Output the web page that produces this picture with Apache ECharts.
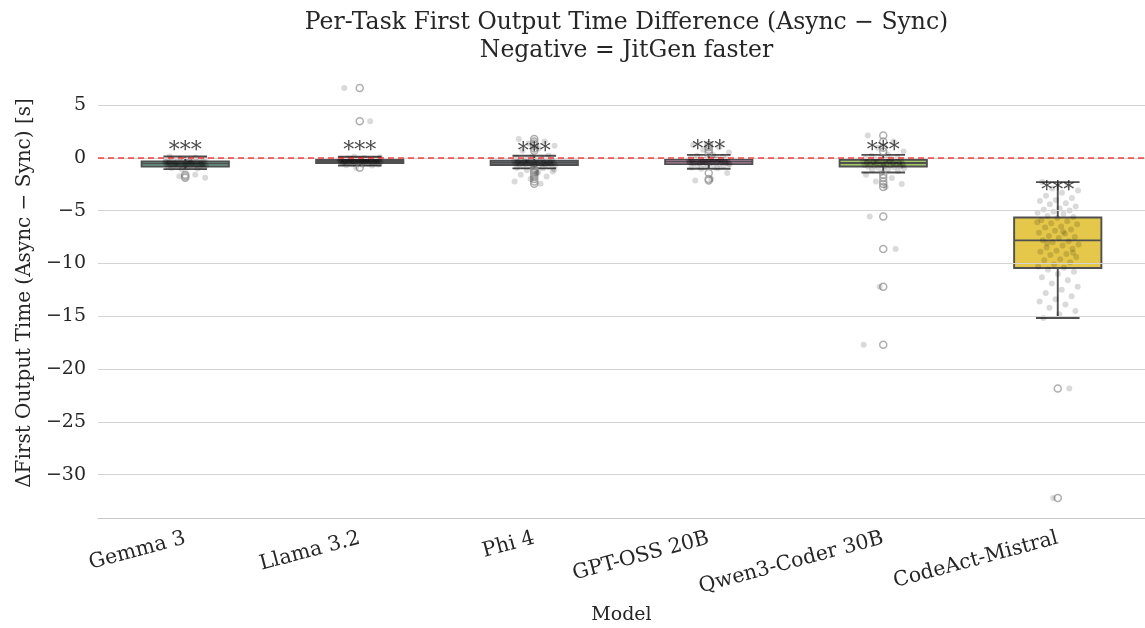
<!DOCTYPE html>
<html><head><meta charset="utf-8">
<script src="https://cdn.jsdelivr.net/npm/echarts@6/dist/echarts.min.js"></script>
<style>html,body{margin:0;padding:0;background:#fff}#c{width:1145px;height:628px}</style>
</head><body><div id="c"></div>
<script>
// ---- data ----
const models = ['Gemma 3', 'Llama 3.2', 'Phi 4', 'GPT-OSS 20B', 'Qwen3-Coder 30B', 'CodeAct-Mistral'];
const boxColors = ['#72b7a1', '#e99575', '#95a3c3', '#db96c0', '#a2c865', '#e5c849'];
const whiskerHigh = [0.12, 0.10, 0.20, 0.28, 0.28, -2.3];
const q3Values = [-0.35, -0.12, -0.28, -0.12, -0.19, -5.65];
const medianValues = [-0.55, -0.30, -0.47, -0.35, -0.50, -7.82];
const q1Values = [-0.82, -0.50, -0.68, -0.60, -0.82, -10.44];
const whiskerLow = [-1.07, -0.73, -1.0, -1.04, -1.39, -15.17];
const starY = [0.6, 0.6, 0.52, 0.75, 0.58, -3.2];
const yTicks = [-30, -25, -20, -15, -10, -5, 0, 5];

const pointsGemma = [0.12, 0.02, -0.08, -0.15, -0.2, -0.22, -0.26, -0.28, -0.3, -0.32, -0.34, -0.35, -0.37, -0.38, -0.4, -0.41, -0.43, -0.44, -0.46, -0.47, -0.49, -0.5, -0.52, -0.53, -0.55, -0.55, -0.56, -0.58, -0.59, -0.61, -0.62, -0.64, -0.65, -0.67, -0.69, -0.7, -0.72, -0.74, -0.76, -0.78, -0.8, -0.81, -0.83, -0.85, -0.88, -0.9, -0.93, -0.97, -1.02, -1.07, -0.36, -0.45, -0.51, -0.6, -0.66, -0.42, -1.6, -1.75, -1.9, -0.25];
const pointsLlama = [6.6, 3.45, 0.1, 0.04, -0.02, -0.06, -0.09, -0.11, -0.12, -0.14, -0.15, -0.17, -0.18, -0.19, -0.21, -0.22, -0.23, -0.24, -0.25, -0.26, -0.27, -0.28, -0.29, -0.3, -0.3, -0.31, -0.32, -0.33, -0.34, -0.35, -0.36, -0.37, -0.38, -0.39, -0.41, -0.42, -0.43, -0.45, -0.46, -0.48, -0.5, -0.52, -0.54, -0.57, -0.6, -0.63, -0.67, -0.7, -0.73, -0.95, -0.2, -0.25, -0.16, -0.33, -0.28, -0.4, -0.22, -0.36, -0.13, -0.31];
const pointsPhi = [1.77, 1.54, 1.35, 1.13, 0.88, 0.66, 0.2, 0.1, 0.0, -0.08, -0.14, -0.2, -0.24, -0.27, -0.3, -0.32, -0.34, -0.36, -0.38, -0.4, -0.42, -0.43, -0.45, -0.46, -0.47, -0.48, -0.5, -0.51, -0.53, -0.55, -0.56, -0.58, -0.6, -0.62, -0.64, -0.66, -0.68, -0.7, -0.73, -0.77, -0.82, -0.88, -0.94, -1.0, -1.18, -1.3, -1.45, -1.6, -1.77, -2.0, -2.24, -2.46, -0.35, -0.44, -0.52, -0.39, -0.57, -0.29, -1.12, -1.38];
const pointsGpt = [1.2, 1.0, 0.75, 0.5, 0.28, 0.2, 0.12, 0.05, 0.0, -0.04, -0.08, -0.11, -0.13, -0.16, -0.18, -0.2, -0.22, -0.24, -0.26, -0.28, -0.3, -0.31, -0.33, -0.35, -0.35, -0.37, -0.38, -0.4, -0.42, -0.44, -0.46, -0.48, -0.5, -0.52, -0.55, -0.58, -0.6, -0.63, -0.67, -0.72, -0.78, -0.85, -0.92, -1.0, -1.04, -1.45, -2.0, -2.15, -0.25, -0.32, -0.41, -0.15, -0.5, -0.36, -0.27, -0.45, -0.19, -0.39, -0.56, -0.1];
const pointsQwen = [2.1, 1.55, 0.95, 0.6, 0.28, 0.18, 0.1, 0.02, -0.05, -0.1, -0.15, -0.19, -0.22, -0.25, -0.28, -0.31, -0.34, -0.37, -0.4, -0.43, -0.46, -0.48, -0.5, -0.52, -0.55, -0.58, -0.61, -0.64, -0.67, -0.7, -0.73, -0.76, -0.8, -0.82, -0.86, -0.9, -0.95, -1.0, -1.08, -1.15, -1.25, -1.39, -1.6, -1.92, -2.24, -2.49, -2.77, -5.55, -8.64, -12.2, -17.7, -0.3, -0.42, -0.53, -0.62, -0.35, -0.47, -0.27, -0.72, -0.2];
const pointsCodeAct = [-2.3, -2.6, -2.9, -3.1, -3.3, -3.6, -3.8, -4.0, -4.1, -4.3, -4.4, -4.6, -4.8, -4.9, -5.0, -5.1, -5.2, -5.3, -5.5, -5.6, -5.7, -5.9, -6.0, -6.2, -6.3, -6.5, -6.6, -6.8, -6.9, -7.1, -7.2, -7.4, -7.5, -7.6, -7.8, -7.9, -8.0, -8.2, -8.3, -8.5, -8.6, -8.8, -8.9, -9.1, -9.2, -9.4, -9.6, -9.7, -9.9, -10.1, -10.3, -10.4, -10.6, -10.8, -11.0, -11.3, -11.6, -11.9, -12.2, -12.5, -12.8, -13.1, -13.4, -13.6, -13.9, -14.2, -14.5, -14.8, -15.17, -21.85, -32.2, -6.1, -7.0, -8.1, -9.0];

const allPoints = [pointsGemma, pointsLlama, pointsPhi, pointsGpt, pointsQwen, pointsCodeAct];

// ---- build series data ----
const FONT = 'DejaVu Serif';
const EDGE = '#505050';
function jitter(k) { return (((k * 0.6180339887 + 0.13) % 1) - 0.5) * 0.24; }
const stripData = [];
const outlierData = [];
allPoints.forEach((arr, i) => {
  arr.forEach((v, k) => {
    stripData.push([i + jitter(k), v]);
    if (v > whiskerHigh[i] || v < whiskerLow[i]) outlierData.push([i, v]);
  });
});
const boxData = models.map((m, i) => [i, whiskerLow[i], q1Values[i], medianValues[i], q3Values[i], whiskerHigh[i]]);
const fmt = v => (v < 0 ? '\u2212' + Math.abs(v) : String(v));

const chart = echarts.init(document.getElementById('c'), null, {renderer: 'canvas'});
chart.setOption({
  animation: false,
  backgroundColor: '#fff',
  title: {
    text: 'Per-Task First Output Time Difference (Async \u2212 Sync)\nNegative = JitGen faster',
    left: 621.5, textAlign: 'center', top: 4,
    textStyle: {fontFamily: FONT, fontSize: 23.5, fontWeight: 'normal', color: '#262626', lineHeight: 28}
  },
  grid: {left: 98, right: 0, top: 68, bottom: 110, containLabel: false, outerBoundsMode: 'none'},
  xAxis: [{
    type: 'category', data: models, boundaryGap: true,
    name: 'Model', nameLocation: 'middle', nameGap: 88,
    nameTextStyle: {fontFamily: FONT, fontSize: 19, color: '#262626'},
    axisLine: {show: true, onZero: false, lineStyle: {color: '#c8c8c8', width: 1.2}},
    axisTick: {show: false},
    axisLabel: {rotate: 15, fontFamily: FONT, fontSize: 20.5, color: '#262626', margin: 20},
    splitLine: {show: false}
  }, {
    type: 'value', min: -0.5, max: 5.5, show: false
  }],
  yAxis: {
    type: 'value', min: -34.1, max: 8.5,
    name: '\u0394First Output Time (Async \u2212 Sync) [s]', nameLocation: 'middle', nameGap: 48,
    nameTextStyle: {fontFamily: FONT, fontSize: 20, color: '#262626'},
    axisLine: {show: false}, axisTick: {show: false},
    splitLine: {show: false},
    axisLabel: {customValues: yTicks, formatter: fmt, fontFamily: FONT, fontSize: 19, color: '#262626', margin: 12}
  },
  series: [
    {
      type: 'scatter', xAxisIndex: 1, data: [], z: 0, silent: true,
      markLine: {
        silent: true, symbol: 'none', label: {show: false},
        lineStyle: {color: '#d4d4d4', width: 1.2, type: 'solid'},
        data: yTicks.map(t => ({yAxis: t}))
      }
    },
    {
      type: 'custom', xAxisIndex: 1, data: boxData, z: 2, silent: true,
      encode: {x: 0, y: [1, 2, 3, 4, 5]},
      renderItem: function (params, api) {
        const i = api.value(0);
        const x = api.coord([i, 0])[0];
        const half = api.size([0.25, 0])[0];
        const capHalf = half / 2;
        const yWl = api.coord([i, api.value(1)])[1];
        const yQ1 = api.coord([i, api.value(2)])[1];
        const yMed = api.coord([i, api.value(3)])[1];
        const yQ3 = api.coord([i, api.value(4)])[1];
        const yWh = api.coord([i, api.value(5)])[1];
        const ls = {stroke: EDGE, lineWidth: 1.9};
        return {type: 'group', children: [
          {type: 'line', shape: {x1: x, y1: yQ3, x2: x, y2: yWh}, style: ls},
          {type: 'line', shape: {x1: x, y1: yQ1, x2: x, y2: yWl}, style: ls},
          {type: 'line', shape: {x1: x - capHalf, y1: yWh, x2: x + capHalf, y2: yWh}, style: ls},
          {type: 'line', shape: {x1: x - capHalf, y1: yWl, x2: x + capHalf, y2: yWl}, style: ls},
          {type: 'rect', shape: {x: x - half, y: yQ3, width: 2 * half, height: Math.max(yQ1 - yQ3, 0.5)},
            style: {fill: boxColors[i], stroke: EDGE, lineWidth: 1.9}},
          {type: 'line', shape: {x1: x - half, y1: yMed, x2: x + half, y2: yMed}, style: ls}
        ]};
      }
    },
    {
      type: 'scatter', xAxisIndex: 1, data: outlierData, z: 3, silent: true,
      symbol: 'circle', symbolSize: 7,
      itemStyle: {color: 'rgba(255,255,255,0)', borderColor: '#9a9a9a', borderWidth: 1.5}
    },
    {
      type: 'scatter', xAxisIndex: 1, data: stripData, z: 4, silent: true,
      symbol: 'circle', symbolSize: 6,
      itemStyle: {color: 'rgba(0,0,0,0.18)'}
    },
    {
      type: 'scatter', xAxisIndex: 1, data: [], z: 5, silent: true,
      markLine: {
        silent: true, symbol: 'none', label: {show: false},
        lineStyle: {color: 'rgba(255,0,0,0.75)', width: 1.5, type: [6, 4]},
        data: [{yAxis: 0}]
      }
    },
    {
      type: 'scatter', xAxisIndex: 1, z: 6, silent: true,
      data: starY.map((v, i) => [i, v]),
      symbolSize: 1, itemStyle: {color: 'rgba(0,0,0,0)'},
      label: {show: true, position: 'inside', formatter: '***', fontFamily: FONT, fontSize: 22, color: '#1a1a1a'}
    }
  ]
});
</script>
</body></html>
